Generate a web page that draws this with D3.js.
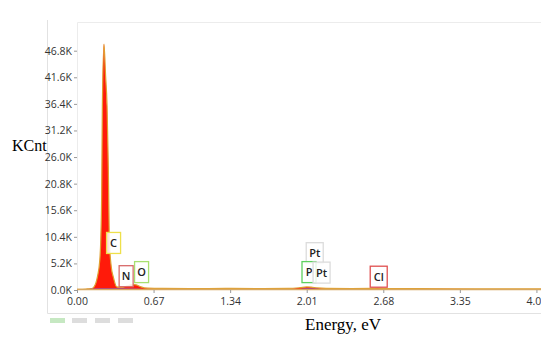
<!DOCTYPE html>
<html>
<head>
<meta charset="utf-8">
<script src="https://cdn.jsdelivr.net/npm/d3@7"></script>
<style>
  body { margin: 0; background: #fff; }
  svg { display: block; }
</style>
</head>
<body>
<svg width="550" height="339"></svg>
<script>
// spectrum: energy (keV) and counts (K)
const energy = [0.00, 0.08, 0.13, 0.149, 0.178, 0.20, 0.208, 0.216, 0.222, 0.236, 0.25, 0.263, 0.274, 0.283, 0.30, 0.318, 0.348, 0.39, 0.44, 0.49, 0.52, 0.56, 0.62, 0.75, 1.0, 1.3, 1.6, 1.85, 1.95, 2.01, 2.05, 2.10, 2.18, 2.4, 2.58, 2.63, 2.70, 3.0, 3.5, 4.1];
const counts = [0.15, 0.2, 0.3, 0.6, 2.5, 6.0, 9.8, 18.8, 36.0, 48.1, 42.0, 36.0, 24.0, 9.8, 4.5, 2.5, 0.6, 0.5, 0.8, 1.1, 1.0, 0.6, 0.35, 0.3, 0.28, 0.3, 0.28, 0.3, 0.45, 0.6, 0.55, 0.4, 0.3, 0.28, 0.3, 0.35, 0.28, 0.25, 0.22, 0.2];
// underlying purple/blue layer
const bkgEnergy = [0.05, 0.12, 0.20, 0.30, 0.45, 0.55, 0.65, 1.9, 2.0, 2.08, 2.2, 2.55, 2.63, 2.72];
const bkgCounts = [0.0, 0.25, 0.35, 0.35, 0.3, 0.25, 0.0, 0.0, 0.35, 0.3, 0.0, 0.0, 0.2, 0.0];

const yTicks = [0, 5.2, 10.4, 15.6, 20.8, 26.0, 31.2, 36.4, 41.6, 46.8];
const xTicks = [0, 0.67, 1.34, 2.01, 2.68, 3.35, 4.02];

// element markers
const elements = ["C", "N", "O", "Pt", "P", "Pt", "Cl"];
const elemEnergy = [0.32, 0.43, 0.565, 2.08, 2.03, 2.14, 2.64];
const elemCount = [9.2, 2.7, 3.5, 7.2, 3.5, 3.4, 2.6];
const elemColor = ["#eee04a", "#d86a6a", "#a8e070", "#dcdcdc", "#5ed05e", "#dcdcdc", "#e05050"];

const svg = d3.select("svg");
const mLeft = 77, mRight = 541, mTop = 22, mBottom = 290;

const x = d3.scaleLinear().domain([0, 4.06]).range([mLeft, mRight]);
const y = d3.scaleLinear().domain([0, 46.8]).range([mBottom, 50.7]);

// panel frame
svg.append("path")
  .attr("d", `M47.5,20V313.5H${mRight}`)
  .attr("fill", "none").attr("stroke", "#e2e2e2");
svg.append("path")
  .attr("d", `M${mLeft + 0.5},${mBottom}V${mTop + 0.5}H${mRight}`)
  .attr("fill", "none").attr("stroke", "#ececec");

// faded legend swatches
const sw = [[50, "#c6e8c2"], [72, "#dddddd"], [95, "#dddddd"], [118, "#dddddd"]];
svg.selectAll(".sw").data(sw).enter().append("rect")
  .attr("x", d => d[0]).attr("y", 318).attr("width", 15).attr("height", 5)
  .attr("fill", d => d[1]);

svg.append("clipPath").attr("id", "clip")
  .append("rect").attr("x", mLeft).attr("y", 0).attr("width", mRight - mLeft).attr("height", 320);
svg.append("clipPath").attr("id", "clipx")
  .append("rect").attr("x", 0).attr("y", -10).attr("width", mRight).attr("height", 40);

const plot = svg.append("g").attr("clip-path", "url(#clip)");

const spec = energy.map((e, i) => [e, counts[i]]);
const bkg = bkgEnergy.map((e, i) => [e, bkgCounts[i]]);

const area = d3.area()
  .x(d => x(d[0])).y0(mBottom).y1(d => y(d[1]))
  .curve(d3.curveMonotoneX);
const line = d3.line()
  .x(d => x(d[0])).y(d => y(d[1]))
  .curve(d3.curveMonotoneX);

plot.append("path").datum(spec)
  .attr("d", area).attr("fill", "#ff1a0a");
plot.append("path").datum(spec)
  .attr("d", line).attr("fill", "none")
  .attr("stroke", "#e0a030").attr("stroke-width", 1.2);
plot.append("path").datum(bkg)
  .attr("d", area).attr("fill", "#7a3cc8").attr("opacity", 0.9);

// baseline
plot.append("line")
  .attr("x1", mLeft).attr("x2", mRight)
  .attr("y1", mBottom - 0.5).attr("y2", mBottom - 0.5)
  .attr("stroke", "#d8a860").attr("stroke-width", 1.5);

// axes
const yAxis = svg.append("g")
  .attr("transform", `translate(${mLeft},0)`)
  .call(d3.axisLeft(y).tickValues(yTicks).tickSize(3).tickPadding(2)
    .tickFormat(d => d.toFixed(1) + "K"));
const xAxis = svg.append("g")
  .attr("transform", `translate(0,${mBottom})`)
  .attr("clip-path", "url(#clipx)")
  .call(d3.axisBottom(x).tickValues(xTicks).tickSize(3).tickPadding(5)
    .tickFormat(d => d.toFixed(2)));

[yAxis, xAxis].forEach(a => {
  a.select(".domain").remove();
  a.selectAll(".tick line").attr("stroke", "#999");
  a.selectAll("text")
    .attr("fill", "#333")
    .style("font-family", "'Open Sans', sans-serif")
    .style("font-size", "10.5px");
});

// element label boxes
const lab = svg.selectAll(".lab")
  .data(elements.map((el, i) => ({ el, e: elemEnergy[i], c: elemCount[i], col: elemColor[i] })))
  .enter().append("g")
  .attr("transform", d => `translate(${x(d.e)},${y(d.c)})`);
lab.append("rect")
  .attr("x", d => d.el.length > 1 ? -8.5 : -7)
  .attr("y", -10.5)
  .attr("width", d => d.el.length > 1 ? 17 : 14)
  .attr("height", 21)
  .attr("fill", "#fff").attr("fill-opacity", 0.85)
  .attr("stroke", d => d.col).attr("stroke-width", 1.3);
lab.append("text")
  .attr("text-anchor", "middle").attr("dy", "0.36em")
  .style("font-family", "'Open Sans', sans-serif")
  .style("font-size", "11px").style("font-weight", 600)
  .attr("fill", "#222")
  .text(d => d.el);

// axis titles
svg.append("text")
  .attr("x", 12).attr("y", 151)
  .style("font-family", "'Liberation Serif', 'Times New Roman', serif")
  .style("font-size", "16px")
  .text("KCnt");
svg.append("text")
  .attr("x", 305).attr("y", 330)
  .style("font-family", "'Liberation Serif', 'Times New Roman', serif")
  .style("font-size", "17px")
  .text("Energy, eV");
</script>
</body>
</html>
